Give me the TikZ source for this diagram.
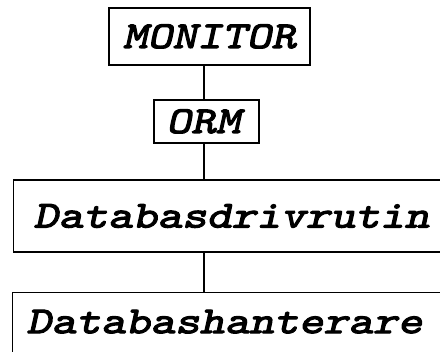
\documentclass[tikz,border=0pt]{standalone}
\usepackage{fontspec}
% slab-serif typewriter, emboldened, slanted and widened to a Courier-like pitch
\newfontfamily\slab{lmmono10-regular.otf}[FakeBold=3, FakeSlant=0.22, FakeStretch=1.24]
\newcommand{\monobi}{\fontsize{38pt}{42pt}\selectfont\slab}
\tikzset{
  layer/.style={draw, line width=1.3pt, font=\monobi, text height=23pt, text depth=0pt, inner sep=0pt},
  widelayer/.style={layer, inner xsep=20pt, text width=407pt, align=left},
  link/.style={line width=1.3pt}
}
\begin{document}
\begin{tikzpicture}[x=1pt,y=1pt]
  \useasboundingbox (0,0) rectangle (440,352);
  \clip (0,0) rectangle (440,352);
  \fill[white] (0,0) rectangle (440,352);
  \node[layer, minimum width=201pt, minimum height=57pt] (mon) at (209.5,315.5) {MONITOR};
  \node[layer, minimum width=105pt, minimum height=43pt] (orm) at (206.5,230.5) {ORM\kern6pt};
  \node[widelayer, minimum height=72pt, anchor=west] (drv) at (13,136) {Databasdrivrutin};
  \node[widelayer, minimum height=80pt, text depth=22pt, anchor=north west] (hnt) at (12,60) {\kern-6pt Databashanterare};
  \coordinate (spine) at (204,0);
  \draw[link] (mon.south -| spine) -- (orm.north -| spine);
  \draw[link] (orm.south -| spine) -- (drv.north -| spine);
  \draw[link] (drv.south -| spine) -- (hnt.north -| spine);
\end{tikzpicture}
\end{document}
